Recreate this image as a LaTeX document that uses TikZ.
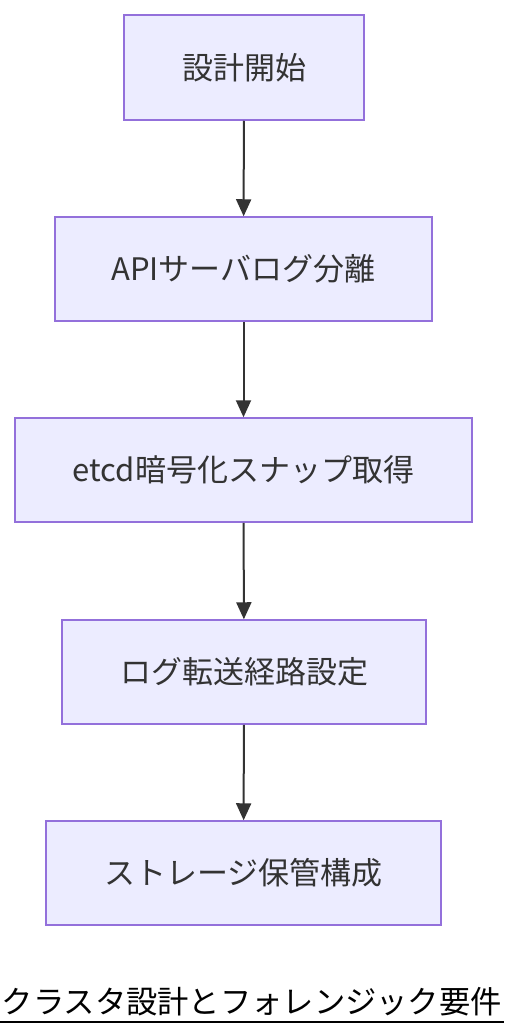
\documentclass[tikz,border=0pt]{standalone}
\usepackage{fontspec}
\setmainfont{Noto Sans CJK JP}
\usetikzlibrary{arrows.meta}
\definecolor{nodefill}{HTML}{ECECFF}
\definecolor{nodeborder}{HTML}{9370DB}
\definecolor{edgecol}{HTML}{333333}
\tikzset{
  flowbox/.style={draw=nodeborder, fill=nodefill, line width=1.5pt, minimum height=104pt,
    inner sep=0pt, text=edgecol, font=\fontsize{31}{36}\selectfont},
  flowarrow/.style={draw=edgecol, line width=2pt, -{Triangle[length=17pt,width=15pt]}}
}
\begin{document}
\begin{tikzpicture}[x=1pt,y=-1pt]
\useasboundingbox (0,0) rectangle (504,1036);
\clip (0,0) rectangle (504,1036);
\node[flowbox, minimum width=240pt, minimum height=105pt] (n1) at (244,67.5) {設計開始};
\node[flowbox, minimum width=377pt] (n2) at (243.5,269) {APIサーバログ分離};
\node[flowbox, minimum width=457pt] (n3) at (243.5,470) {etcd暗号化スナップ取得};
\node[flowbox, minimum width=364pt] (n4) at (244,672) {ログ転送経路設定};
\node[flowbox, minimum width=395pt] (n5) at (243.5,873) {ストレージ保管構成};
\draw[flowarrow] (n1) -- (n2);
\draw[flowarrow] (n2) -- (n3);
\draw[flowarrow] (n3) -- (n4);
\draw[flowarrow] (n4) -- (n5);
\node[anchor=base west, inner sep=0pt, font=\fontsize{31.3}{37}\selectfont] (title) at (1.5,1013) {クラスタ設計とフォレンジック要件};
\draw[line width=2pt] (0,1022) -- (504,1022);
\end{tikzpicture}
\end{document}
